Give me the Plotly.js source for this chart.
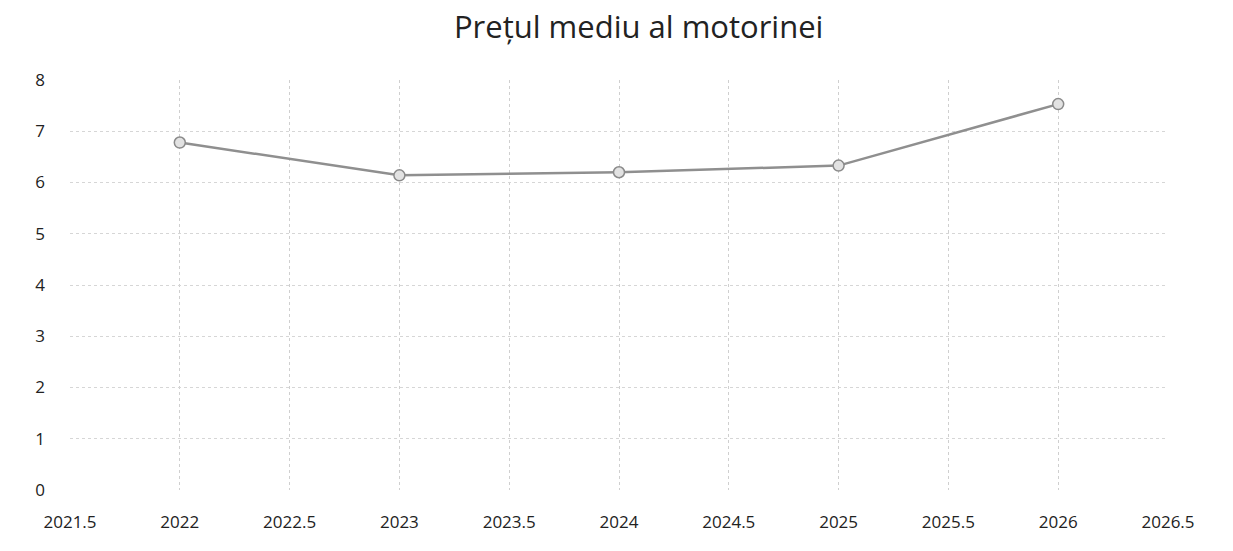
<!DOCTYPE html>
<html>
<head>
<meta charset="utf-8">
<script src="https://cdn.plot.ly/plotly-3.0.1.min.js"></script>
<style>html,body{margin:0;padding:0;background:#fff;}#chart{width:1233px;height:551px;}</style>
</head>
<body>
<div id="chart"></div>
<script>
const years = [2022, 2023, 2024, 2025, 2026];
const prices = [6.78, 6.14, 6.2, 6.33, 7.53];
const xTicks = [2021.5, 2022, 2022.5, 2023, 2023.5, 2024, 2024.5, 2025, 2025.5, 2026, 2026.5];
const yTicks = [0, 1, 2, 3, 4, 5, 6, 7, 8];
const chartTitle = 'Prețul mediu al motorinei';

const trace = {
  x: years,
  y: prices,
  type: 'scatter',
  mode: 'lines+markers',
  line: {color: '#8f8f8f', width: 2.5},
  marker: {symbol: 'circle', size: 11, color: '#e2e2e2', line: {color: '#8a8a8a', width: 1.5}},
  hoverinfo: 'x+y'
};

const layout = {
  width: 1233, height: 551,
  paper_bgcolor: '#fff', plot_bgcolor: '#fff',
  margin: {l: 70, r: 65, t: 80, b: 61},
  font: {family: '"Open Sans", "Noto Sans", sans-serif', color: '#222', size: 17},
  title: {text: chartTitle, x: 0.518, xanchor: 'center', y: 0.95, yanchor: 'middle',
          font: {size: 31, color: '#222', family: '"Open Sans", "Noto Sans", sans-serif'}},
  showlegend: false,
  xaxis: {
    range: [2021.5, 2026.5], tickvals: xTicks, ticktext: xTicks.map(String),
    showgrid: true, gridcolor: '#cfcfcf', griddash: 'dot', gridwidth: 1,
    zeroline: false, showline: false, ticks: '', ticklabelstandoff: 20,
    tickfont: {size: 17, color: '#222'}
  },
  yaxis: {
    range: [0, 8], tickvals: yTicks, ticktext: yTicks.map(String),
    showgrid: true, gridcolor: '#d6d6d6', griddash: 'dot', gridwidth: 1,
    zeroline: false, showline: false, ticks: '', ticklabelstandoff: 24,
    tickfont: {size: 17, color: '#222'}
  }
};

Plotly.newPlot('chart', [trace], layout, {displayModeBar: false, staticPlot: true});
</script>
</body>
</html>
